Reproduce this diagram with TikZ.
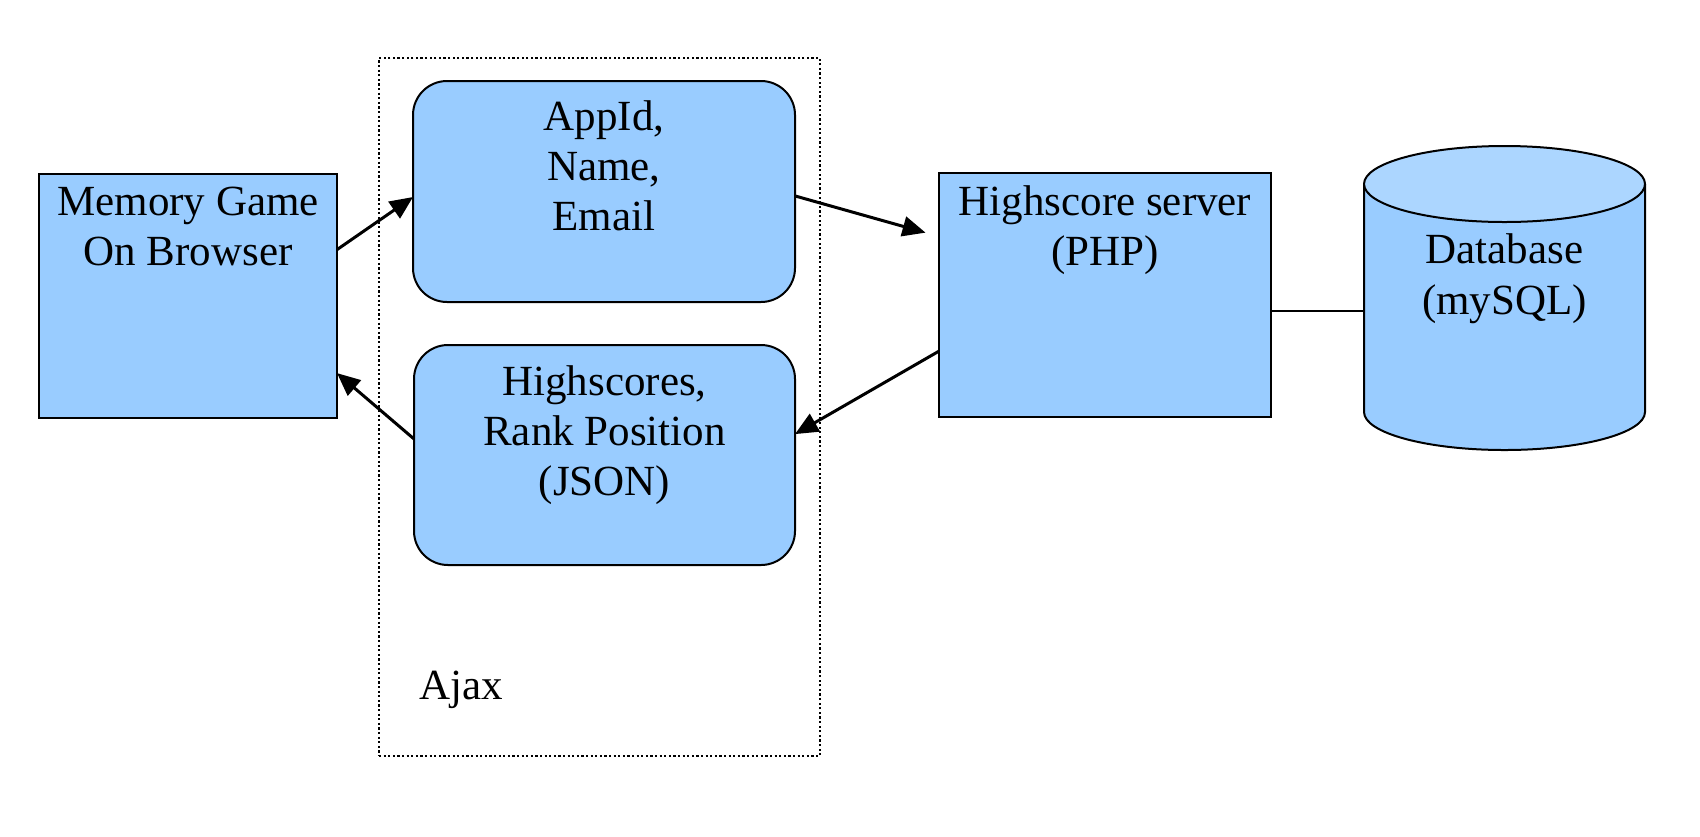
\documentclass[tikz,border=0pt]{standalone}
\usepackage{fontspec}
\setmainfont{Liberation Serif}
\usetikzlibrary{arrows.meta,calc}
\definecolor{boxblue}{HTML}{99CCFF}
\definecolor{toplight}{HTML}{ACD6FF}
\begin{document}
\begin{tikzpicture}[x=0.5pt,y=-0.5pt,
  box/.style={draw=black,fill=boxblue,line width=1pt,inner sep=0pt,outer sep=0pt},
  rbox/.style={box,rounded corners=17pt},
  txt/.style={anchor=base,inner sep=0pt,font=\fontsize{21.5pt}{25pt}\selectfont},
  flow/.style={line width=1.5pt,-{Triangle[length=11.5pt,width=10pt]}},
  link/.style={line width=1pt}]
\useasboundingbox (0,0) rectangle (1700,836);
% Ajax container
\node[draw=black,line width=1.2pt,dash pattern=on 1.1pt off 1.2pt,minimum width=220.5pt,minimum height=349pt,inner sep=0pt,outer sep=0pt] (ajax) at (599.5,407) {};
\node[txt,anchor=base west] (ajaxt) at (419,699) {Ajax};
% boxes
\node[box,minimum width=149pt,minimum height=122pt] (mem) at (188,296) {};
\node[rbox,minimum width=191pt,minimum height=110.5pt] (req) at (604,191.5) {};
\node[rbox,minimum width=190.5pt,minimum height=110pt] (res) at (604.5,455) {};
\node[box,minimum width=166pt,minimum height=122pt] (srv) at (1105,295) {};
% database cylinder
\node[inner sep=0pt,outer sep=0pt,minimum width=140.5pt,minimum height=152pt] (db) at (1504.5,298) {};
\filldraw[fill=boxblue,draw=black,line width=1pt] (1364,184) -- (1364,412)
  arc[start angle=180,end angle=360,x radius=70.25pt,y radius=19pt] -- (1645,184);
\filldraw[fill=toplight,draw=black,line width=1pt] (1504.5,184) ellipse [x radius=70.25pt,y radius=19pt];
% texts
\node[txt] (m1) at (188,215) {Memory Game};
\node[txt] (m2) at (188,265) {On Browser};
\node[txt] (q1) at (604,130) {AppId,};
\node[txt] (q2) at (604,180) {Name,};
\node[txt] (q3) at (604,230) {Email};
\node[txt] (r1) at (604.5,395) {Highscores,};
\node[txt] (r2) at (604.5,445) {Rank Position};
\node[txt] (r3) at (604.5,495) {(JSON)};
\node[txt] (s1) at (1105,215) {Highscore server};
\node[txt] (s2) at (1105,265) {(PHP)};
\node[txt] (d1) at (1504.5,263) {Database};
\node[txt] (d2) at (1504.5,314) {(mySQL)};
% connectors
\draw[flow] ($(mem.north east)!0.31!(mem.south east)$) -- ($(req.north west)!0.525!(req.south west)$);
\draw[flow,shorten >=7pt] ($(req.north east)!0.52!(req.south east)$) -- ($(srv.north west)!0.26!(srv.south west)$);
\draw[flow] ($(srv.north west)!0.73!(srv.south west)$) -- ($(res.north east)!0.405!(res.south east)$);
\draw[flow] ($(res.north west)!0.427!(res.south west)$) -- ($(mem.north east)!0.816!(mem.south east)$);
\coordinate (dbl) at ($(srv.north east)!0.566!(srv.south east)$);
\draw[link] (dbl) -- (dbl -| db.west);
\end{tikzpicture}
\end{document}
